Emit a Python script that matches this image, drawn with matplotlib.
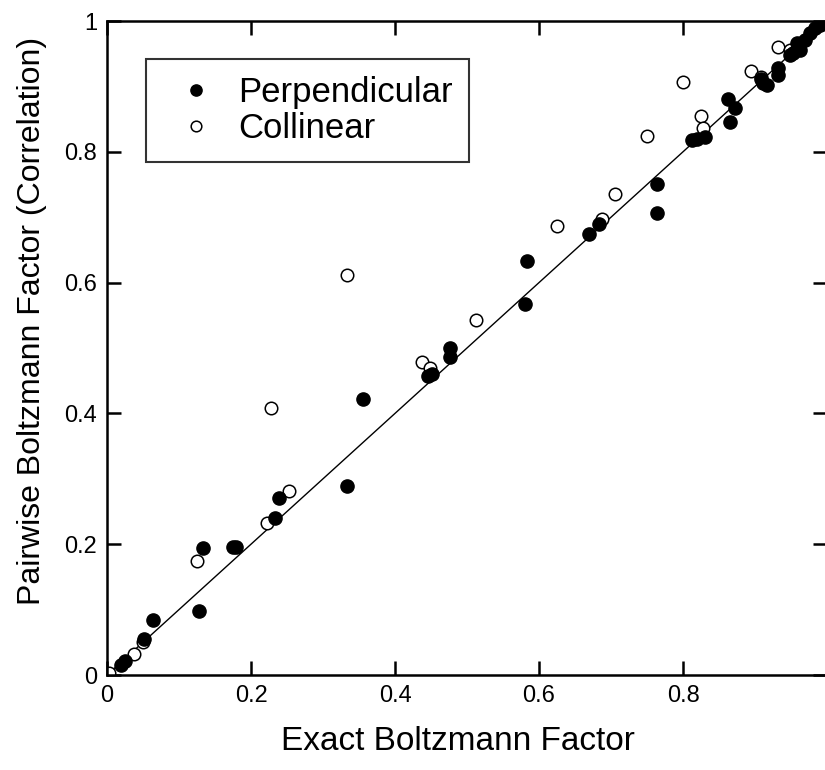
import matplotlib

matplotlib.use("Agg")
import matplotlib.pyplot as plt

plt.rcParams["font.family"] = ["Liberation Sans", "DejaVu Sans"]

# Exact vs. pairwise Boltzmann factors for each geometry
perp_exact = [
    0.020, 0.025, 0.051, 0.064, 0.128, 0.134, 0.175, 0.179, 0.234, 0.239,
    0.333, 0.356, 0.446, 0.451, 0.476, 0.476, 0.581, 0.583, 0.670, 0.684,
    0.764, 0.764, 0.812, 0.820, 0.830, 0.863, 0.865, 0.872, 0.909, 0.911,
    0.916, 0.932, 0.932, 0.949, 0.953, 0.958, 0.963, 0.969, 0.976, 0.983,
    0.990,
]
perp_pairwise = [
    0.015, 0.021, 0.055, 0.084, 0.098, 0.194, 0.195, 0.196, 0.240, 0.270,
    0.289, 0.422, 0.457, 0.461, 0.486, 0.500, 0.568, 0.633, 0.674, 0.690,
    0.706, 0.751, 0.818, 0.820, 0.822, 0.880, 0.846, 0.867, 0.912, 0.905,
    0.902, 0.917, 0.928, 0.948, 0.951, 0.966, 0.956, 0.971, 0.981, 0.989,
    0.994,
]
coll_exact = [
    0.003, 0.038, 0.050, 0.125, 0.222, 0.228, 0.253, 0.333, 0.438, 0.449,
    0.513, 0.625, 0.687, 0.706, 0.750, 0.800, 0.825, 0.828, 0.895, 0.909,
    0.932, 0.949,
]
coll_pairwise = [
    0.003, 0.032, 0.051, 0.174, 0.233, 0.409, 0.281, 0.612, 0.479, 0.469,
    0.543, 0.687, 0.698, 0.735, 0.824, 0.906, 0.855, 0.836, 0.924, 0.915,
    0.961, 0.956,
]

ticks = [0, 0.2, 0.4, 0.6, 0.8, 1]
y_tick_labels = ["0", "0.2", "0.4", "0.6", "0.8", "1"]
x_tick_labels = ["0", "0.2", "0.4", "0.6", "0.8", ""]

fig = plt.figure(figsize=(8.25, 7.7), dpi=100)
# right spine sits just past the edge of the canvas
ax = fig.add_axes([107 / 825, 95 / 770, 720 / 825, 654 / 770])

ax.plot([0, 1], [0, 1], color="black", linewidth=1.0, zorder=1)
ax.plot(coll_exact, coll_pairwise, linestyle="none", marker="o", markersize=9,
        markerfacecolor="white", markeredgecolor="black", markeredgewidth=1.1,
        label="Collinear", zorder=2)
ax.plot(perp_exact, perp_pairwise, linestyle="none", marker="o", markersize=9.5,
        markerfacecolor="black", markeredgecolor="black",
        label="Perpendicular", zorder=3)

ax.set_xlim(0, 1)
ax.set_ylim(0, 1)
ax.set_xticks(ticks)
ax.set_yticks(ticks)
ax.set_xticklabels(x_tick_labels)
ax.set_yticklabels(y_tick_labels)
ax.tick_params(direction="in", length=10, width=1.8, labelsize=17, pad=7,
               top=True, right=True)
for spine in ax.spines.values():
    spine.set_linewidth(1.8)

ax.set_xlabel("Exact Boltzmann Factor", fontsize=24)
ax.set_ylabel("Pairwise Boltzmann Factor (Correlation)", fontsize=23)
ax.xaxis.set_label_coords(351 / 720, -51 / 654)
ax.yaxis.set_label_coords(-60 / 720, 354 / 654)

handles, labels = ax.get_legend_handles_labels()
leg = ax.legend(handles[::-1], labels[::-1], loc="upper left",
                bbox_to_anchor=(39 / 720, 1 - 38 / 654), fontsize=25,
                frameon=True, fancybox=False, edgecolor="black",
                handlelength=1.92, handletextpad=0.25, borderpad=0.48,
                borderaxespad=0, labelspacing=0.1, markerscale=0.85)
leg.get_frame().set_linewidth(1.5)

fig.savefig("out.png", dpi=100)
